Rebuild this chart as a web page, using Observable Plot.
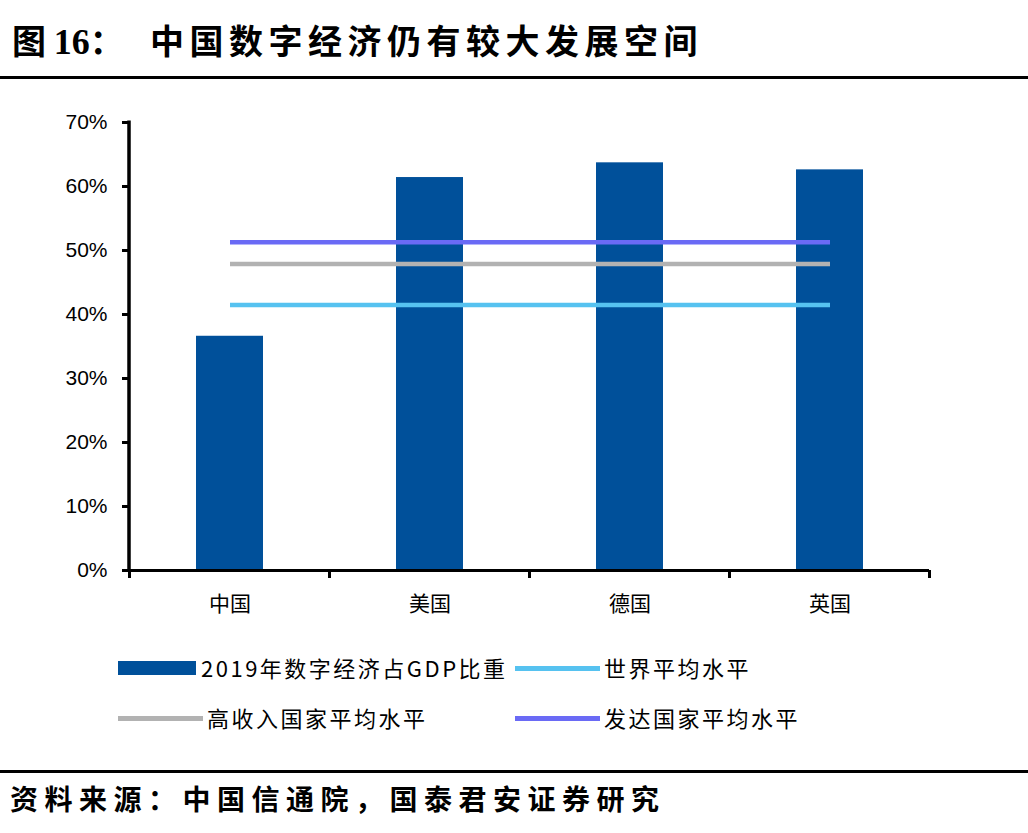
<!DOCTYPE html>
<html>
<head>
<meta charset="utf-8">
<script src="https://cdn.jsdelivr.net/npm/d3@7"></script>
<script src="https://cdn.jsdelivr.net/npm/@observablehq/plot@0.6"></script>
<style>
  html, body { margin:0; padding:0; background:#fff; }
  #page { position:relative; width:1028px; height:833px; overflow:hidden; background:#fff; font-family:"Noto Sans CJK SC", sans-serif; color:#000; }
  .title { position:absolute; left:12px; top:15px; font-size:34px; font-weight:700; white-space:nowrap; }
  .title .pre { display:inline-block; width:138px; letter-spacing:0; }
  .title .num { font-family:"Liberation Serif", serif; font-size:36px; }
  .title .main { letter-spacing:5.5px; }
  .rule { position:absolute; left:0; width:1028px; height:3px; background:#000; }
  .source { position:absolute; left:10px; top:778px; font-size:28px; font-weight:700; letter-spacing:6.5px; white-space:nowrap; }
  #chart { position:absolute; left:0; top:90px; }
  #chart g[aria-label="y-axis tick"] { stroke-width:3px; }
  .lg { position:absolute; font-size:22px; letter-spacing:2.5px; white-space:nowrap; line-height:1; }
  .sw { position:absolute; }
</style>
</head>
<body>
<div id="page">
  <div class="title"><span class="pre">图 <span class="num">16</span>：</span><span class="main">中国数字经济仍有较大发展空间</span></div>
  <div class="rule" style="top:76px"></div>
  <div id="chart"></div>
  <div id="legend"></div>
  <div class="rule" style="top:770px"></div>
  <div class="source">资料来源：中国信通院，国泰君安证券研究</div>
</div>
<script>
const countries = ["中国", "美国", "德国", "英国"];
const digitalShare = [36.6, 61.4, 63.7, 62.6];
const worldAvg = 41.5;
const highIncomeAvg = 47.9;
const developedAvg = 51.3;
const yTicks = [0, 10, 20, 30, 40, 50, 60, 70];
const seriesNames = ["2019年数字经济占GDP比重", "世界平均水平", "高收入国家平均水平", "发达国家平均水平"];
const colors = { bar: "#00509a", world: "#56c2f0", high: "#b2b2b2", developed: "#6a6af5" };

const bars = countries.map((c, i) => ({ country: c, value: digitalShare[i] }));
const lineData = (v) => countries.map(c => ({ country: c, value: v }));

const chart = Plot.plot({
  width: 1028,
  height: 540,
  marginTop: 32,
  marginBottom: 60,
  marginLeft: 129,
  marginRight: 99,
  style: { fontFamily: "'Liberation Sans', Arial, sans-serif", background: "#fff", color: "#000" },
  x: { domain: countries, paddingInner: 0.665, paddingOuter: 0.3325, label: null },
  y: { domain: [0, 70], label: null },
  marks: [
    Plot.barY(bars, { x: "country", y: "value", fill: colors.bar }),
    Plot.lineY(lineData(highIncomeAvg), { x: "country", y: "value", stroke: colors.high, strokeWidth: 4.5, strokeLinecap: "butt" }),
    Plot.lineY(lineData(worldAvg), { x: "country", y: "value", stroke: colors.world, strokeWidth: 4.5, strokeLinecap: "butt" }),
    Plot.lineY(lineData(developedAvg), { x: "country", y: "value", stroke: colors.developed, strokeWidth: 4.5, strokeLinecap: "butt" }),
    Plot.ruleY([0], { stroke: "#000", strokeWidth: 3 }),
    Plot.axisY({ ticks: yTicks, tickFormat: d => d + "%", tickSize: 7, tickPadding: 15, fontSize: 21, strokeWidth: 3, label: null }),
    Plot.axisX({ tickSize: 0, tickPadding: 26, fontSize: 21, fontFamily: "'Noto Sans CJK SC', sans-serif", label: null })
  ]
});
document.getElementById("chart").appendChild(chart);

// axis line and category boundary ticks from the library's scales
const xs = chart.scale("x"), ys = chart.scale("y");
const svg = d3.select(chart);
svg.selectAll('g[aria-label="y-axis tick"] path').attr("stroke-width", 3);
const x0 = xs.range[0];
svg.append("line")
  .attr("x1", x0).attr("x2", x0)
  .attr("y1", ys.apply(0) + 1.5).attr("y2", ys.apply(70) - 1.5)
  .attr("stroke", "#000").attr("stroke-width", 3.5);
const bounds = countries.map(c => xs.apply(c) + xs.bandwidth / 2 - xs.step / 2);
bounds.push(bounds[bounds.length - 1] + xs.step);
svg.selectAll("line.bt").data(bounds).join("line")
  .attr("class", "bt")
  .attr("x1", d => d).attr("x2", d => d)
  .attr("y1", ys.apply(0)).attr("y2", ys.apply(0) + 8)
  .attr("stroke", "#000").attr("stroke-width", 3);

// legend
const legend = document.getElementById("legend");
const items = [
  { name: seriesNames[0], color: colors.bar, type: "rect", x: 118, y: 668 },
  { name: seriesNames[1], color: colors.world, type: "line", x: 515, y: 668 },
  { name: seriesNames[2], color: colors.high, type: "line", x: 118, y: 718 },
  { name: seriesNames[3], color: colors.developed, type: "line", x: 515, y: 718 }
];
items.forEach(it => {
  const sw = document.createElement("div");
  sw.className = "sw";
  const h = it.type === "rect" ? 14 : 5;
  sw.style.cssText = `left:${it.x}px;top:${it.y - h / 2}px;width:${it.type === "rect" ? 78 : 85}px;height:${h}px;background:${it.color};`;
  legend.appendChild(sw);
  const t = document.createElement("div");
  t.className = "lg";
  t.textContent = it.name;
  t.style.left = (it.type === "rect" ? it.x + 83 : it.x + 89) + "px";
  t.style.top = (it.y - 12) + "px";
  legend.appendChild(t);
});
</script>
</body>
</html>
